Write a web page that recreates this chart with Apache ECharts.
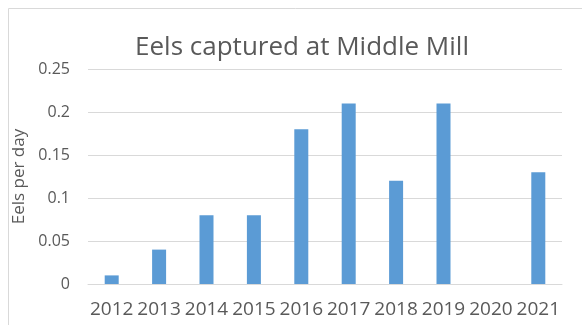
<!DOCTYPE html>
<html><head><meta charset="utf-8">
<script src="https://cdn.jsdelivr.net/npm/echarts@6/dist/echarts.min.js"></script>
<style>html,body{margin:0;padding:0;background:#fff}#c{width:582px;height:325px}</style>
</head><body><div id="c"></div>
<script>
const years = ['2012','2013','2014','2015','2016','2017','2018','2019','2020','2021'];
const eelsPerDay = [0.01,0.04,0.08,0.08,0.18,0.21,0.12,0.21,0,0.13];
const yTicks = {min:0,max:0.25,interval:0.05};
const chart = echarts.init(document.getElementById('c'));
const font = 'Open Sans';
chart.setOption({
  animation:false,
  textStyle:{fontFamily:font},
  graphic:[{type:'rect',shape:{x:8.5,y:8.5,width:700,height:400},style:{fill:'none',stroke:'#d9d9d9',lineWidth:1},silent:true}],
  title:{text:'Eels captured at Middle Mill',left:297,top:30,textAlign:'center',
    textStyle:{fontFamily:font,fontSize:26,fontWeight:'normal',color:'#595959'}},
  grid:{left:88,right:20,top:69,bottom:41,containLabel:false},
  xAxis:{type:'category',data:years,
    axisLine:{lineStyle:{color:'#d9d9d9'}},axisTick:{show:false},
    axisLabel:{color:'#595959',fontSize:19,margin:16,fontFamily:font,interval:0}},
  yAxis:{type:'value',min:yTicks.min,max:yTicks.max,interval:yTicks.interval,
    name:'Eels per day',nameLocation:'middle',nameGap:52,nameRotate:90,
    nameTextStyle:{color:'#595959',fontSize:17,fontFamily:font,verticalAlign:'top'},
    axisLine:{show:false},axisTick:{show:false},
    splitLine:{lineStyle:{color:'#d9d9d9',width:1}},
    axisLabel:{color:'#595959',fontSize:16,margin:18,fontFamily:font}},
  series:[{type:'bar',data:eelsPerDay,barWidth:14,itemStyle:{color:'#5b9bd5'}}]
});
</script></body></html>
